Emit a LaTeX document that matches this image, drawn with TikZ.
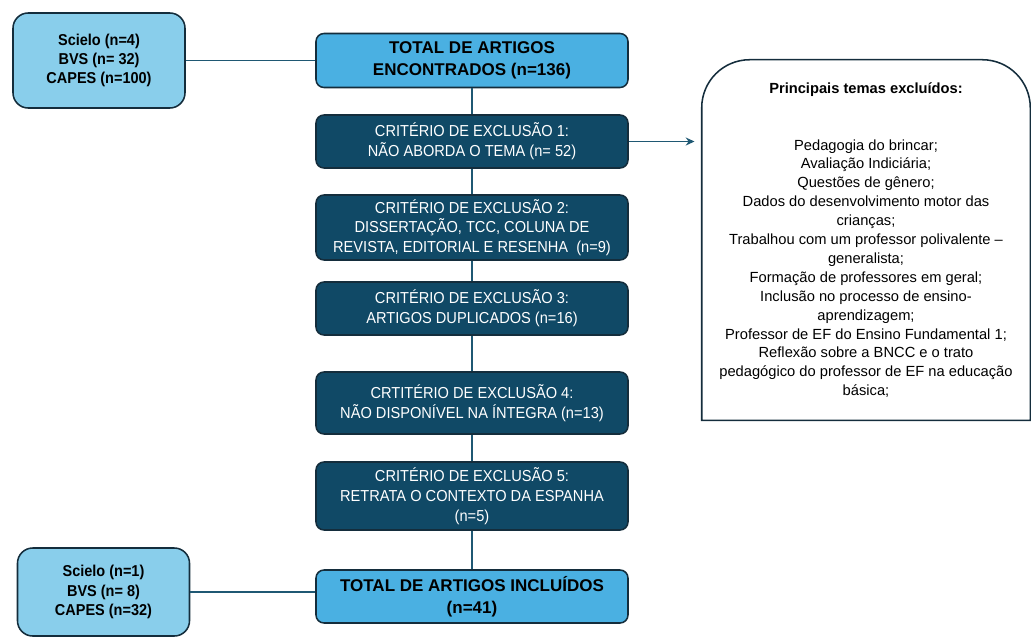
\documentclass[tikz,border=0pt]{standalone}
\usepackage{fontspec}
\setmainfont{Liberation Sans}
\newfontfamily\narrowsans[FakeStretch=0.92]{Liberation Sans}
\usepackage{tikz}
\usetikzlibrary{arrows.meta, positioning}
\usepackage{xcolor}

\definecolor{srcblue}{HTML}{89CEEB}
\definecolor{totblue}{HTML}{4AB0E2}
\definecolor{critblue}{HTML}{104966}
\definecolor{boxline}{HTML}{142D3C}
\definecolor{linkcol}{HTML}{1F5873}

\begin{document}
\begin{tikzpicture}[
    src/.style = {draw=boxline, fill=srcblue, line width=1.1pt, rounded corners=0.38cm,
                  minimum width=4.3cm, align=center, inner sep=2pt,
                  font=\narrowsans\bfseries\fontsize{11.2}{13.6}\selectfont},
    total/.style = {draw=boxline, fill=totblue, line width=1.1pt, rounded corners=0.2cm,
                    minimum width=7.8cm, minimum height=1.35cm, align=center, inner sep=2pt,
                    font=\bfseries\fontsize{12.1}{15.8}\selectfont},
    crit/.style = {draw=boxline, fill=critblue, text=white, line width=1.1pt, rounded corners=0.2cm,
                   minimum width=7.8cm, align=center, inner sep=2pt,
                   font=\narrowsans\fontsize{11.3}{14}\selectfont},
    temasbox/.style = {minimum width=8.2cm, minimum height=9cm, align=center, inner sep=0pt,
                       font=\fontsize{10.45}{13.45}\selectfont},
    link/.style = {draw=linkcol, line width=1.1pt}]

  \useasboundingbox (0,0) rectangle (25.775,-15.925);

  % bases de dados
  \node[src, minimum height=2.375cm] (src1) at (2.475,-1.5125) {Scielo (n=4)\\BVS (n= 32)\\CAPES (n=100)};
  \node[src, minimum height=2.2cm] (src2) at (2.5875,-14.8) {Scielo (n=1)\\BVS (n= 8)\\CAPES (n=32)};

  % coluna central
  \node[total] (tot1) at (11.8,-1.5125) {TOTAL DE ARTIGOS\\ENCONTRADOS (n=136)};
  \node[crit, minimum height=1.325cm] (c1) at (11.8,-3.5375) {CRITÉRIO DE EXCLUSÃO 1:\\NÃO ABORDA O TEMA (n= 52)};
  \node[crit, minimum height=1.625cm] (c2) at (11.8,-5.6875) {CRITÉRIO DE EXCLUSÃO 2:\\DISSERTAÇÃO, TCC, COLUNA DE\\REVISTA, EDITORIAL E RESENHA~ (n=9)};
  \node[crit, minimum height=1.325cm] (c3) at (11.8,-7.7125) {CRITÉRIO DE EXCLUSÃO 3:\\ARTIGOS DUPLICADOS (n=16)};
  \node[crit, minimum height=1.55cm] (c4) at (11.8,-10.075) {CRTITÉRIO DE EXCLUSÃO 4:\\NÃO DISPONÍVEL NA ÍNTEGRA (n=13)};
  \node[crit, minimum height=1.7cm] (c5) at (11.8,-12.4) {CRITÉRIO DE EXCLUSÃO 5:\\RETRATA O CONTEXTO DA ESPANHA\\(n=5)};
  \node[total, minimum height=1.325cm] (tot2) at (11.8,-14.9125) {TOTAL DE ARTIGOS INCLUÍDOS\\(n=41)};

  % temas excluidos
  \node[temasbox] (temas) at (21.65,-6.0) {{\bfseries Principais temas excluídos:}\\[0.95cm]
    Pedagogia do brincar;\\
    Avaliação Indiciária;\\
    Questões de gênero;\\
    Dados do desenvolvimento motor das\\
    crianças;\\
    Trabalhou com um professor polivalente –\\
    generalista;\\
    Formação de professores em geral;\\
    Inclusão no processo de ensino-\\
    aprendizagem;\\
    Professor de EF do Ensino Fundamental 1;\\
    Reflexão sobre a BNCC e o trato\\
    pedagógico do professor de EF na educação\\
    básica;};
  \draw[draw=boxline, line width=1.1pt] (temas.south west)
    -- ([yshift=-1.2cm]temas.north west) arc[start angle=180, end angle=90, radius=1.2cm]
    -- ([xshift=-1.2cm]temas.north east) arc[start angle=90, end angle=0, radius=1.2cm]
    -- (temas.south east) -- cycle;

  % ligacoes
  \draw[link] (src1) -- (tot1);
  \draw[link] (src2) -- (src2 -| tot2.west);
  \draw[link] (tot1) -- (c1);
  \draw[link] (c1) -- (c2);
  \draw[link] (c2) -- (c3);
  \draw[link] (c3) -- (c4);
  \draw[link] (c4) -- (c5);
  \draw[link] (c5) -- (tot2);
  \draw[link, -{Stealth[length=0.22cm, width=0.2cm]}, shorten >=0.18cm] (c1) -- (c1 -| temas.west);

\end{tikzpicture}
\end{document}
